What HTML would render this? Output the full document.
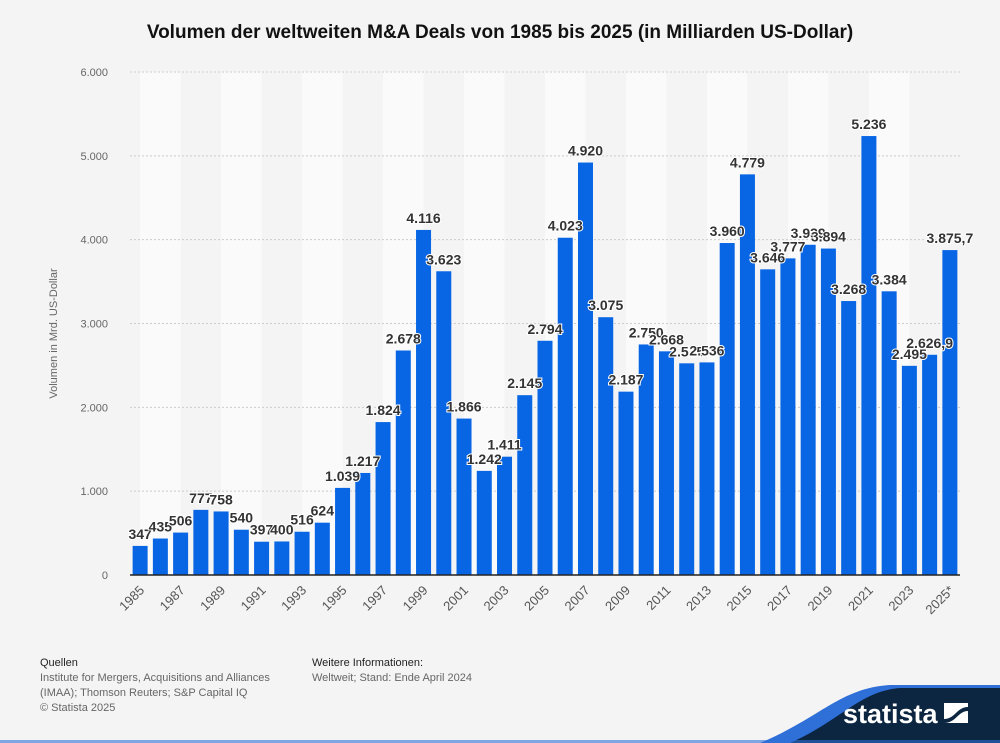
<!DOCTYPE html>
<html><head><meta charset="utf-8"><style>
body{margin:0;width:1000px;height:743px;background:#f4f4f4;font-family:"Liberation Sans",sans-serif;overflow:hidden;position:relative}
#title{position:absolute;top:22px;left:0;width:1000px;text-align:center;font-weight:bold;font-size:19px;color:#111}
.ft{position:absolute;font-size:11px;color:#666;line-height:15px}
.ft b{color:#222;font-weight:normal}
</style></head><body>
<div id="title">Volumen der weltweiten M&amp;A Deals von 1985 bis 2025 (in Milliarden US-Dollar)</div>
<svg id="chart" width="1000" height="650" style="position:absolute;left:0;top:0"></svg>
<div class="ft" style="left:40px;top:656px"><b>Quellen</b><br>Institute for Mergers, Acquisitions and Alliances<br>(IMAA); Thomson Reuters; S&amp;P Capital IQ<br>© Statista 2025</div>
<div class="ft" style="left:312px;top:656px"><b>Weitere Informationen:</b><br>Weltweit; Stand: Ende April 2024</div>
<svg width="1000" height="70" style="position:absolute;left:0;top:673px">
<path d="M760 70 C 820 45, 840 15, 890 12 L1000 12 L1000 70 Z" fill="#2f6fd8"/>
<path d="M790 70 C 840 48, 860 18, 900 15 L1000 15 L1000 70 Z" fill="#0c2540"/>
<rect x="0" y="67" width="1000" height="3" fill="#2f6fd8" opacity="0.6"/>
<text x="843" y="50" fill="#fff" font-size="27" font-weight="bold" font-family="Liberation Sans">statista</text>
<rect x="944" y="30" width="24" height="20" fill="#fff"/>
<path d="M944 46 C955 46,957 34,968 34 L968 38 C958 38,956 50,944 50Z" fill="#0c2540"/>
</svg>
<script>
const categories=["1985","1986","1987","1988","1989","1990","1991","1992","1993","1994","1995","1996","1997","1998","1999","2000","2001","2002","2003","2004","2005","2006","2007","2008","2009","2010","2011","2012","2013","2014","2015","2016","2017","2018","2019","2020","2021","2022","2023","2024","2025*"];
const values=[347,435,506,777,758,540,397,400,516,624,1039,1217,1824,2678,4116,3623,1866,1242,1411,2145,2794,4023,4920,3075,2187,2750,2668,2525,2536,3960,4779,3646,3777,3939,3894,3268,5236,3384,2495,2626.9,3875.7];
const labels=["347","435","506","777","758","540","397","400","516","624","1.039","1.217","1.824","2.678","4.116","3.623","1.866","1.242","1.411","2.145","2.794","4.023","4.920","3.075","2.187","2.750","2.668","2.525","2.536","3.960","4.779","3.646","3.777","3.939","3.894","3.268","5.236","3.384","2.495","2.626,9","3.875,7"];
const yTicks=[0,1000,2000,3000,4000,5000,6000];
const yTickLabels=["0","1.000","2.000","3.000","4.000","5.000","6.000"];
const svg=document.getElementById('chart');const NS="http://www.w3.org/2000/svg";
const x0=130,x1=960,y0=575,y1=72,ymax=6000;
const step=(x1-x0)/categories.length,bw=15;
const xc=i=>x0+step*(i+0.5);
const y=v=>y0-(v/ymax)*(y0-y1);
function mk(t,a,p){const e=document.createElementNS(NS,t);for(const k in a)e.setAttribute(k,a[k]);(p||svg).appendChild(e);return e;}
for(let i=0;i<categories.length-1;i+=4){const bx=xc(i);const b=mk('rect',{x:bx,y:y1,width:Math.min(step*2,x1-bx),height:y0-y1,fill:'#fafafa'});

}
yTicks.forEach((t,i)=>{if(t>0){const g=mk('line',{x1:x0,x2:x1,y1:y(t),y2:y(t),stroke:'#ccc','stroke-dasharray':'2,2'});

}
const l=mk('text',{x:108,y:y(t)+4,'text-anchor':'end','font-size':11,fill:'#666'});l.textContent=yTickLabels[i];

});
const yt=mk('text',{x:57,y:(y0+y1)/2+10,'text-anchor':'middle','font-size':11,fill:'#666',transform:`rotate(-90 57 ${(y0+y1)/2+10})`});yt.textContent='Volumen in Mrd. US-Dollar';


values.forEach((v,i)=>{const r=mk('rect',{x:xc(i)-bw/2,y:y(v),width:bw,height:y0-y(v),fill:'#0866e5'});

});
values.forEach((v,i)=>{const t=mk('text',{x:xc(i),y:y(v)-7,'text-anchor':'middle','font-size':14,'font-weight':'bold',fill:'#333',stroke:'#fff','stroke-width':2,'paint-order':'stroke'});t.textContent=labels[i];


if(i%2==0){const tx=xc(i)+5,ty=y0+16;const c=mk('text',{x:tx,y:ty,'text-anchor':'end','font-size':13,fill:'#555',transform:`rotate(-45 ${tx} ${ty})`});c.textContent=categories[i];

}});
const ax=mk('line',{x1:x0,x2:x1,y1:y0,y2:y0,stroke:'#222','stroke-width':1.5});


</script>
</body></html>
